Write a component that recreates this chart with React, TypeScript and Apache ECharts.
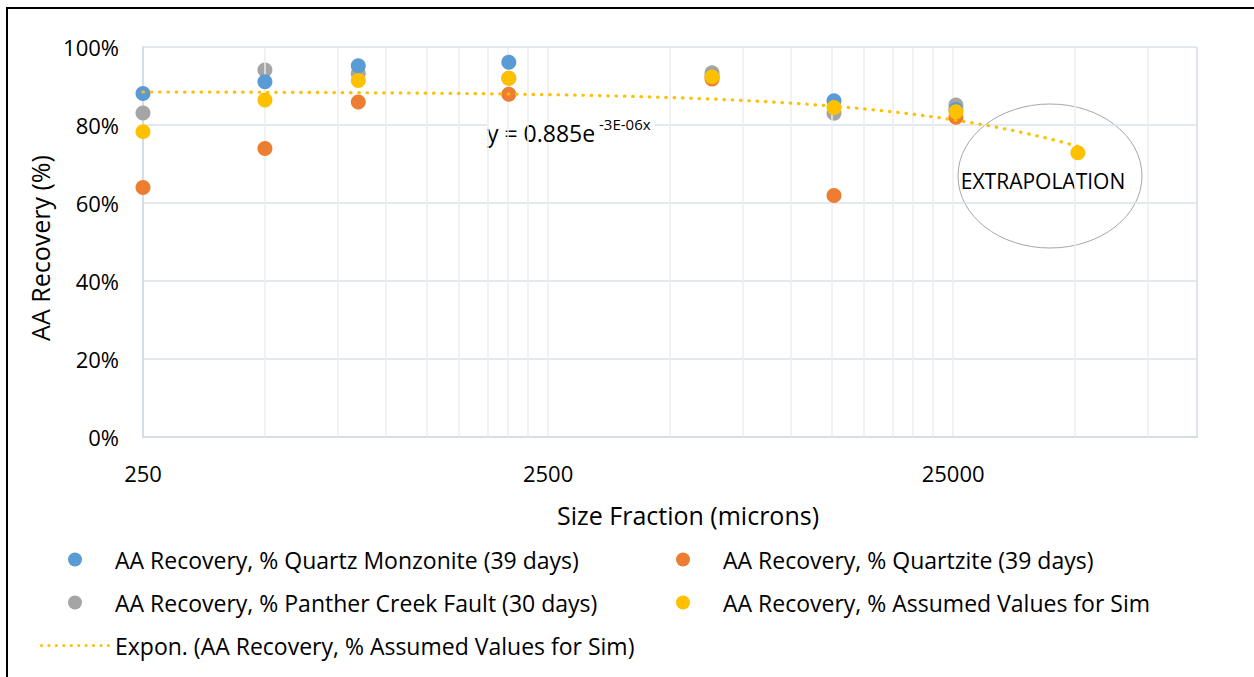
import React, { useEffect, useRef } from 'react';
import * as echarts from 'echarts';

const FONT = "'Open Sans', 'Noto Sans', sans-serif";

// Size fractions (microns) with measured recoveries (%)
const sizeFractions = [250, 500, 850, 2000, 6350, 12700, 25400];
const quartzMonzonite = [88.1, 91.1, 95.2, 96.1, 92.5, 86.2, 84.0];
const quartzite = [64.0, 74.0, 85.9, 87.9, 91.8, 61.9, 82.0];
const pantherCreek = [83.1, 94.1, 93.2, 92.0, 93.4, 83.0, 85.1];

// Assumed values for simulation (last point is the extrapolation)
const simSizes = [250, 500, 850, 2000, 6350, 12700, 25400, 50800];
const simValues = [78.3, 86.4, 91.4, 92.0, 92.4, 84.5, 83.4, 72.9];

// Axis definitions
const X_MIN = 250;
const X_MAX = 100000;
const xTickLabels = ['250', '2500', '25000'];
const minorGridSizes = [
  500, 750, 1000, 1250, 1500, 1750, 2000, 2250,
  5000, 7500, 10000, 12500, 15000, 17500, 20000, 22500,
  50000, 75000,
];

const names = {
  qm: 'AA Recovery, % Quartz Monzonite (39 days)',
  qz: 'AA Recovery, % Quartzite (39 days)',
  pc: 'AA Recovery, % Panther Creek Fault (30 days)',
  sim: 'AA Recovery, % Assumed Values for Sim',
  trend: 'Expon. (AA Recovery, % Assumed Values for Sim)',
};

const colors = {
  qm: '#5B9BD5',
  qz: '#ED7D31',
  pc: '#A5A5A5',
  sim: '#FFC000',
};

// log10 position relative to axis minimum (Excel-style log axis starting at 250)
const toAxis = (x: number) => Math.log10(x / X_MIN);
const pts = (xs: number[], ys: number[]) => xs.map((x, i) => [toAxis(x), ys[i]]);

// Exponential least-squares fit (as Excel's exponential trendline)
function expFit(xs: number[], ys: number[]) {
  const n = xs.length;
  const ly = ys.map((v) => Math.log(v / 100));
  const mx = xs.reduce((a, b) => a + b, 0) / n;
  const my = ly.reduce((a, b) => a + b, 0) / n;
  let sxy = 0;
  let sxx = 0;
  for (let i = 0; i < n; i++) {
    sxy += (xs[i] - mx) * (ly[i] - my);
    sxx += (xs[i] - mx) * (xs[i] - mx);
  }
  const b = sxy / sxx;
  const a = Math.exp(my - b * mx);
  return { a, b };
}

function trendCurve() {
  const { a, b } = expFit(simSizes, simValues);
  const lo = Math.log10(simSizes[0]);
  const hi = Math.log10(simSizes[simSizes.length - 1]);
  const steps = 120;
  const out: number[][] = [];
  for (let i = 0; i <= steps; i++) {
    const x = Math.pow(10, lo + ((hi - lo) * i) / steps);
    out.push([toAxis(x), 100 * a * Math.exp(b * x)]);
  }
  return out;
}

function dottedIcon() {
  let d = 'path://';
  const r = 1.6;
  for (let i = 0; i < 10; i++) {
    const cx = r + i * ((70 - 2 * r) / 9);
    d += `M${(cx - r).toFixed(2)},${r}a${r},${r} 0 1,0 ${2 * r},0a${r},${r} 0 1,0 ${-2 * r},0z`;
  }
  return d;
}

const circleIcon = 'path://M0,7a7,7 0 1,0 14,0a7,7 0 1,0 -14,0z';

export default function App() {
  const ref = useRef<HTMLDivElement>(null);

  useEffect(() => {
    if (!ref.current) return;
    const chart = echarts.init(ref.current, undefined, { renderer: 'svg' });

    const legendText = { fontSize: 23, color: '#000', fontFamily: FONT };
    const legendBase = {
      orient: 'horizontal',
      padding: 0,
      itemWidth: 70,
      itemHeight: 14,
      icon: circleIcon,
      symbolKeepAspect: true,
      selectedMode: false,
      textStyle: legendText,
    };

    const scatterBase = {
      type: 'scatter',
      symbol: 'circle',
      symbolSize: 15,
      silent: true,
    };

    const option: any = {
      animation: false,
      backgroundColor: '#ffffff',
      textStyle: { fontFamily: FONT },
      grid: { left: 143, right: 57, top: 47, bottom: 240, containLabel: false },
      xAxis: {
        type: 'value',
        min: 0,
        max: toAxis(X_MAX),
        interval: 1,
        axisLine: { show: true, onZero: false, lineStyle: { color: '#D5DDE6', width: 2 } },
        axisTick: { show: false },
        axisLabel: {
          showMaxLabel: false,
          margin: 25,
          fontSize: 22,
          color: '#000',
          fontFamily: FONT,
          formatter: (v: number) => {
            const k = Math.round(v);
            return Math.abs(v - k) < 1e-9 && xTickLabels[k] ? xTickLabels[k] : '';
          },
        },
        splitLine: {
          show: true,
          lineStyle: { color: ['#D5DDE6', '#ECECEC', '#ECECEC', '#D5DDE6'], width: 1.5 },
        },
        name: 'Size Fraction (microns)',
        nameLocation: 'middle',
        nameGap: 65,
        nameTextStyle: { fontSize: 25, color: '#000', fontFamily: FONT, padding: [0, 0, 0, 36] },
      },
      yAxis: {
        type: 'value',
        min: 0,
        max: 100,
        interval: 20,
        axisLine: { show: true, lineStyle: { color: '#D5DDE6', width: 2 } },
        axisTick: { show: false },
        axisLabel: {
          formatter: '{value}%',
          margin: 24,
          fontSize: 22,
          color: '#000',
          fontFamily: FONT,
        },
        splitLine: { show: true, lineStyle: { color: '#D9E2EB', width: 1.5 } },
        name: 'AA Recovery (%)',
        nameLocation: 'middle',
        nameGap: 86,
        nameTextStyle: { fontSize: 25, color: '#000', fontFamily: FONT, padding: [0, 12, 0, 0] },
      },
      legend: [
        { ...legendBase, left: 68, top: 548, itemStyle: { color: colors.qm }, data: [names.qm] },
        { ...legendBase, left: 676, top: 548, itemStyle: { color: colors.qz }, data: [names.qz] },
        { ...legendBase, left: 68, top: 591, itemStyle: { color: colors.pc }, data: [names.pc] },
        { ...legendBase, left: 676, top: 591, itemStyle: { color: colors.sim }, data: [names.sim] },
        {
          ...legendBase,
          left: 40,
          top: 634,
          itemHeight: 3.2,
          icon: dottedIcon(),
          itemStyle: { color: colors.sim },
          data: [names.trend],
        },
      ],
      series: [
        {
          type: 'line',
          name: '__minorgrid',
          data: [],
          silent: true,
          z: 0,
          markLine: {
            silent: true,
            symbol: 'none',
            label: { show: false },
            lineStyle: { color: '#ECECEC', width: 1.5, type: 'solid' },
            data: minorGridSizes.map((s) => ({ xAxis: toAxis(s) })),
          },
        },
        { ...scatterBase, name: names.pc, z: 4, itemStyle: { color: colors.pc, opacity: 1 }, data: pts(sizeFractions, pantherCreek) },
        { ...scatterBase, name: names.qm, z: 5, itemStyle: { color: colors.qm, opacity: 1 }, data: pts(sizeFractions, quartzMonzonite) },
        { ...scatterBase, name: names.qz, z: 6, itemStyle: { color: colors.qz, opacity: 1 }, data: pts(sizeFractions, quartzite) },
        { ...scatterBase, name: names.sim, z: 7, itemStyle: { color: colors.sim, opacity: 1 }, data: pts(simSizes, simValues) },
        {
          type: 'line',
          name: names.trend,
          data: trendCurve(),
          showSymbol: false,
          symbol: 'none',
          smooth: false,
          silent: true,
          z: 8,
          itemStyle: { color: colors.sim },
          lineStyle: { color: colors.sim, width: 3.2, type: [0.5, 7.8], cap: 'round' },
        },
      ],
      graphic: [
        {
          type: 'rect',
          silent: true,
          shape: { x: 7, y: 8, width: 1400, height: 800 },
          style: { fill: 'none', stroke: '#000', lineWidth: 2 },
        },
        {
          type: 'ellipse',
          silent: true,
          shape: { cx: 1050, cy: 176, rx: 92, ry: 72 },
          style: { fill: 'none', stroke: '#A6A6A6', lineWidth: 1 },
        },
        {
          type: 'text',
          silent: true,
          x: 1043,
          y: 181,
          style: {
            text: 'EXTRAPOLATION',
            fontSize: 21,
            fontFamily: FONT,
            fill: '#000',
            align: 'center',
            verticalAlign: 'middle',
          },
        },
        {
          type: 'rect',
          silent: true,
          z: 1,
          shape: { x: 487, y: 123, width: 168, height: 4 },
          style: { fill: '#ffffff' },
        },
        {
          type: 'text',
          silent: true,
          z: 2,
          x: 487,
          y: 133,
          style: {
            text: 'y = 0.885e',
            fontSize: 23,
            fontFamily: FONT,
            fill: '#000',
            align: 'left',
            verticalAlign: 'middle',
          },
        },
        {
          type: 'text',
          silent: true,
          z: 2,
          x: 599,
          y: 123.5,
          style: {
            text: '-3E-06x',
            fontSize: 15,
            fontFamily: FONT,
            fill: '#000',
            align: 'left',
            verticalAlign: 'middle',
          },
        },
      ],
    };

    chart.setOption(option);
    return () => chart.dispose();
  }, []);

  return (
    <div
      ref={ref}
      style={{ position: 'fixed', left: 0, top: 0, width: 1254, height: 677, background: '#fff' }}
    />
  );
}
